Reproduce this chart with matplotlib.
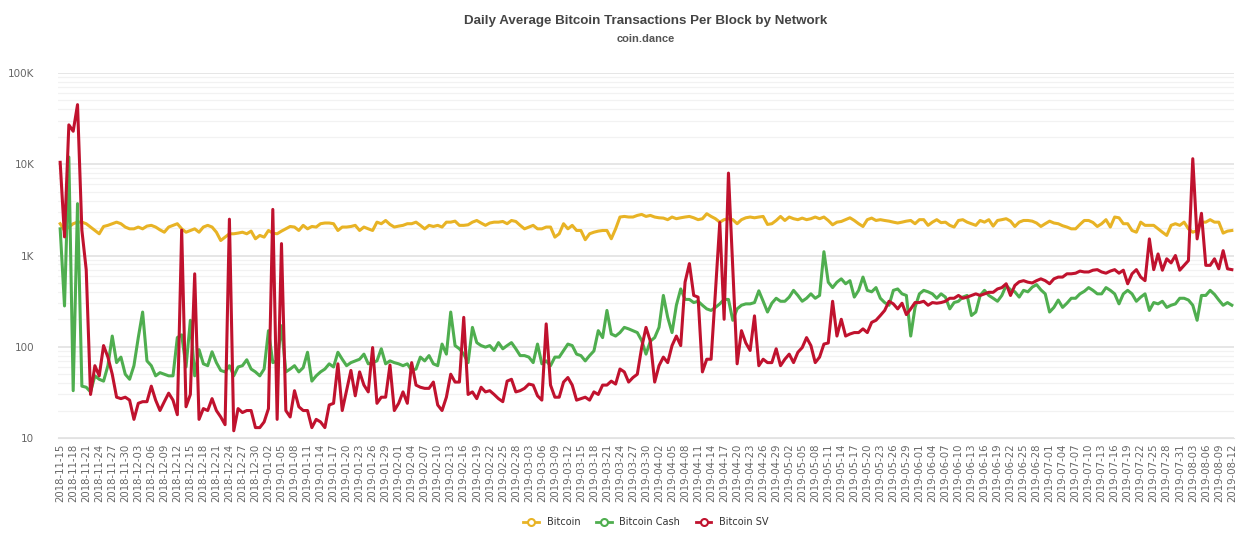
import matplotlib
matplotlib.use("Agg")
import matplotlib.pyplot as plt
import numpy as np
import pandas as pd

# daily values, 2018-11-15 .. 2019-08-12
start_date = "2018-11-15"

btc = [2230, 1880, 2050, 2230, 2320, 2320, 2230, 2050, 1880, 1730, 2080, 2140, 2230, 2320, 2230, 2050, 1960, 1960, 2050, 1960,
       2100, 2140, 2050, 1910, 1800, 2050, 2140,
       2230, 1960, 1800, 1880, 1960, 1800, 2050, 2140, 2050, 1800, 1460, 1590, 1730, 1730, 1760, 1800, 1730, 1850, 1525, 1660,
       1590, 1880, 1760, 1730, 1850, 1960, 2080,
       2050, 1880, 2140, 1960, 2080, 2050, 2230, 2270, 2270, 2230, 1880, 2050, 2050, 2080, 2140, 1880, 2050, 1960, 1880, 2320,
       2230, 2420, 2190, 2050, 2100, 2140, 2230,
       2230, 2320, 2140, 1960, 2140, 2080, 2140, 2050, 2320, 2320, 2380, 2140, 2140, 2170, 2320, 2420, 2270, 2140, 2270, 2320,
       2320, 2360, 2230, 2420, 2360, 2140, 1960, 2050,
       2140, 1960, 1960, 2050, 2050, 1590, 1730, 2230, 1960, 2140, 1880, 1880, 1490, 1730, 1800, 1850, 1880, 1880, 1525, 1960,
       2640, 2680, 2640, 2640, 2750, 2820, 2680,
       2750, 2640, 2590, 2570, 2470, 2640, 2530, 2590, 2640, 2680, 2590, 2470, 2530, 2870, 2680, 2530, 2320, 2470, 2530, 2470,
       2230, 2470, 2590, 2640, 2590, 2640, 2680, 2190,
       2230, 2420, 2680, 2420, 2640, 2530, 2470, 2570, 2470, 2530, 2640, 2530, 2640, 2420, 2170, 2320, 2360, 2470, 2590, 2420,
       2230, 2080, 2470, 2570, 2420, 2470, 2420, 2380,
       2320, 2270, 2320, 2380, 2420, 2230, 2470, 2470, 2140, 2320, 2470, 2290, 2320, 2140, 2050, 2420, 2470, 2320, 2230, 2140,
       2420, 2320, 2470, 2100, 2420, 2470, 2530,
       2380, 2080, 2320, 2420, 2420, 2380, 2270, 2080, 2230, 2380, 2270, 2230, 2120, 2050, 1960, 1960, 2190, 2420, 2420, 2300,
       2080, 2230, 2470, 2050, 2640, 2590, 2230,
       2230, 1880, 1800, 2320, 2140, 2140, 2140, 1960, 1800, 1660, 2140, 2230, 2140, 2320, 1960, 1800, 1880, 2320, 2320, 2470,
       2320, 2320, 1760, 1850, 1880]

bch = [1960, 280, 12000, 33, 3700, 37, 36, 32, 48, 44, 42, 62, 131, 67, 77, 50, 44, 62, 126, 240,
       70, 62, 48, 52, 50, 48, 48,
       126, 135, 60, 195, 48, 93, 65, 62, 88, 67, 55, 53, 62, 48, 60, 62, 72, 57, 53, 48,
       57, 150, 67, 70, 170, 53, 57,
       62, 53, 59, 87, 42, 48, 53, 57, 65, 60, 87, 73, 62, 67, 70, 73, 83, 65, 67, 70,
       95, 65, 70, 67, 65, 62, 65,
       55, 57, 77, 70, 80, 65, 62, 107, 83, 240, 103, 95, 83, 67, 163, 111, 103, 99, 103, 91,
       111, 95, 103, 111, 95, 80, 80, 77,
       67, 107, 65, 70, 62, 77, 77, 91, 107, 103, 83, 80, 70, 80, 90, 150, 126, 250, 138, 131,
       143, 163, 157, 150, 143, 117, 83,
       115, 126, 163, 365, 210, 143, 285, 430, 330, 330, 305, 315, 285, 260, 250, 270, 295, 330, 330, 195,
       260, 285, 295, 295, 305, 410, 315, 240,
       300, 340, 315, 315, 350, 415, 365, 315, 340, 380, 340, 365, 1100, 510, 445, 510, 555, 490, 530, 350,
       415, 580, 415, 400, 445, 340, 305, 285,
       415, 430, 380, 365, 131, 270, 380, 415, 400, 380, 340, 380, 350, 260, 305, 315, 350, 365, 220, 240,
       365, 415, 365, 340, 315, 365, 470,
       420, 400, 350, 415, 400, 450, 480, 420, 380, 240, 270, 325, 270, 300, 340, 340, 380, 405, 445, 415,
       380, 380, 445, 415, 380, 295, 380,
       415, 380, 315, 350, 380, 250, 305, 295, 315, 270, 285, 295, 340, 340, 325, 285, 195, 365, 365, 415,
       375, 325, 285, 305, 285]

bsv = [10500, 1600, 27000, 23000, 45000, 1900, 700, 30, 62, 48, 103, 77, 50, 28, 27, 28, 26, 16, 24, 25,
       25, 37, 26, 20, 25, 31, 26,
       18, 1900, 22, 30, 630, 16, 21, 20, 27, 20, 17, 14, 2500, 12, 21, 19, 20, 20, 13, 13,
       15, 21, 3200, 16, 1350, 20, 17,
       33, 22, 20, 20, 13, 16, 15, 13, 23, 24, 65, 20, 33, 55, 29, 53, 38, 32, 98, 24,
       28, 28, 63, 20, 24, 32, 24,
       67, 38, 36, 35, 35, 41, 23, 20, 28, 50, 41, 41, 210, 30, 32, 27, 36, 32, 33, 30,
       27, 25, 42, 44, 32, 33, 35, 39,
       38, 29, 26, 178, 38, 28, 28, 41, 46, 38, 26, 27, 28, 26, 32, 30, 38, 38, 42, 39,
       57, 53, 41, 46, 50, 98, 163,
       115, 41, 62, 77, 67, 103, 131, 103, 510, 815, 365, 350, 53, 73, 73, 400, 2300, 200, 8000, 700,
       65, 150, 110, 91, 218, 62, 73, 67,
       67, 95, 62, 73, 83, 67, 87, 98, 126, 103, 67, 77, 107, 110, 315, 131, 200, 131, 138, 143,
       143, 157, 143, 185, 195, 220, 250, 315,
       295, 260, 300, 225, 260, 305, 305, 315, 285, 305, 300, 305, 315, 340, 340, 365, 340, 350, 365, 380,
       365, 380, 395, 395, 430, 445, 490,
       365, 470, 515, 530, 510, 500, 530, 555, 530, 490, 555, 580, 580, 630, 630, 640, 675, 660, 660, 690,
       700, 660, 640, 675, 700, 640, 690,
       490, 630, 700, 580, 530, 1520, 700, 1040, 690, 920, 830, 1000, 690, 780, 880, 11500, 1520, 2900, 780, 780,
       920, 715, 1130, 715, 700]

series = [("Bitcoin", btc, "#e8b325"), ("Bitcoin Cash", bch, "#4fae4f"), ("Bitcoin SV", bsv, "#c0122e")]

dates = pd.date_range(start_date, periods=len(btc), freq="D")
x = np.arange(len(dates))

fig = plt.figure(figsize=(12.51, 5.5), dpi=100)
ax = fig.add_axes([58 / 1251, 1 - 438 / 550, 1176 / 1251, 365 / 550])

for name, vals, col in series:
    ax.plot(x, vals, color=col, lw=2.2, label=name, solid_joinstyle="round",
            marker="o", markersize=5, markerfacecolor="white", markevery=[])

ax.set_yscale("log")
ax.set_ylim(10, 100000)
ax.set_xlim(-0.5, len(x) - 0.5)
ax.set_yticks([10, 100, 1000, 10000, 100000])
ax.set_yticklabels(["10", "100", "1K", "10K", "100K"])
ax.yaxis.set_minor_locator(matplotlib.ticker.LogLocator(base=10, subs=np.arange(2, 10)))
ax.yaxis.set_minor_formatter(matplotlib.ticker.NullFormatter())
ax.grid(True, which="major", axis="y", color="#e2e2e2", lw=1.2)
ax.grid(True, which="minor", axis="y", color="#f2f2f2", lw=0.9)
ax.set_axisbelow(True)

ticks = x[::3]
ax.set_xticks(ticks)
ax.set_xticklabels([d.strftime("%Y-%m-%d") for d in dates[::3]], rotation=90,
                   fontsize=7.3, color="#666666", ha="center", va="top")
ax.tick_params(axis="x", length=0, pad=4)
ax.tick_params(axis="y", which="both", length=0, pad=17, labelsize=7.5, labelcolor="#666666")

for s in ["top", "right", "left"]:
    ax.spines[s].set_visible(False)
ax.spines["bottom"].set_color("#e2e2e2")

cx = (58 + 1176 / 2) / 1251
fig.text(cx, 1 - 21 / 550, "Daily Average Bitcoin Transactions Per Block by Network",
         ha="center", va="center", fontsize=9.6, fontweight="bold", color="#444444",
         family="Liberation Sans")
fig.text(cx, 1 - 39 / 550, "coin.dance", ha="center", va="center", fontsize=8,
         fontweight="bold", color="#555555", family="Liberation Sans")

handles = [plt.Line2D([], [], color=c, lw=2, marker="o", markersize=5, markerfacecolor="white",
                      markeredgewidth=1.5) for _, _, c in series]
fig.legend(handles, [n for n, _, _ in series], loc="center", bbox_to_anchor=(cx, 1 - 522 / 550),
           ncol=3, frameon=False, fontsize=7, handlelength=1.6, columnspacing=1.6,
           labelcolor="#333333")

fig.savefig("out.png", dpi=100, facecolor="white")
